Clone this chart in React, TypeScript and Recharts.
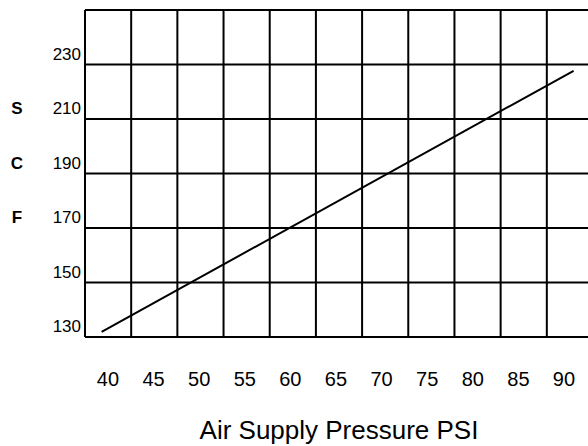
import { CartesianGrid, Label, Line, LineChart, XAxis, YAxis } from "recharts";

// Air supply pressure vs SCF
const psiTicks = [40, 45, 50, 55, 60, 65, 70, 75, 80, 85, 90];
const psiGridLines = [37.5, 42.5, 47.5, 52.5, 57.5, 62.5, 67.5, 72.5, 77.5, 82.5, 87.5, 92.5];
const scfTicks = [130, 150, 170, 190, 210, 230, 250];
const scfLetterRows = [210, 190, 170];
const scfLetters = ["S", "C", "F"];

const psiValues = [39.3, 90.4];
const scfValues = [131.9, 227.7];

const chartData = psiValues.map((psi, i) => ({ psi, scf: scfValues[i] }));

function ScfTick({ x, y, payload }: any) {
  if (payload.value === 250) return <g />;
  const idx = scfLetterRows.indexOf(payload.value);
  return (
    <g>
      <text x={x} y={y - 5} textAnchor="end" fontSize={17} fill="#000">
        {payload.value}
      </text>
      {idx >= 0 && (
        <text x={17} y={y - 5} textAnchor="middle" fontSize={17} fontWeight="bold" fill="#000">
          {scfLetters[idx]}
        </text>
      )}
    </g>
  );
}

export default function App() {
  return (
    <div
      style={{
        position: "absolute",
        left: 0,
        top: 0,
        width: 588,
        height: 446,
        overflow: "hidden",
        background: "#fff",
        fontFamily: "'Liberation Sans', Arial, sans-serif",
      }}
    >
      <LineChart width={600} height={446} data={chartData} margin={{ top: 10, right: 7, left: 0, bottom: 0 }}>
        <CartesianGrid xAxisId="grid" stroke="#000" strokeWidth={2} />
        <XAxis
          xAxisId="grid"
          dataKey="psi"
          type="number"
          domain={[37.5, 92.5]}
          ticks={psiGridLines}
          hide
        />
        <XAxis
          dataKey="psi"
          type="number"
          domain={[37.48, 93.18]}
          ticks={psiTicks}
          interval={0}
          height={109}
          axisLine={false}
          tickLine={false}
          tickSize={0}
          tickMargin={35}
          tick={{ fontSize: 20, fill: "#000" }}
        >
          <Label value="Air Supply Pressure PSI" position="insideBottom" offset={7} fontSize={26} fill="#000" />
        </XAxis>
        <YAxis
          type="number"
          domain={[130, 250]}
          ticks={scfTicks}
          interval={0}
          width={85}
          axisLine={false}
          tickLine={false}
          tickSize={0}
          tickMargin={4}
          tick={<ScfTick />}
        />
        <Line
          xAxisId="grid"
          dataKey="scf"
          stroke="#000"
          strokeWidth={2}
          dot={false}
          isAnimationActive={false}
        />
      </LineChart>
    </div>
  );
}
